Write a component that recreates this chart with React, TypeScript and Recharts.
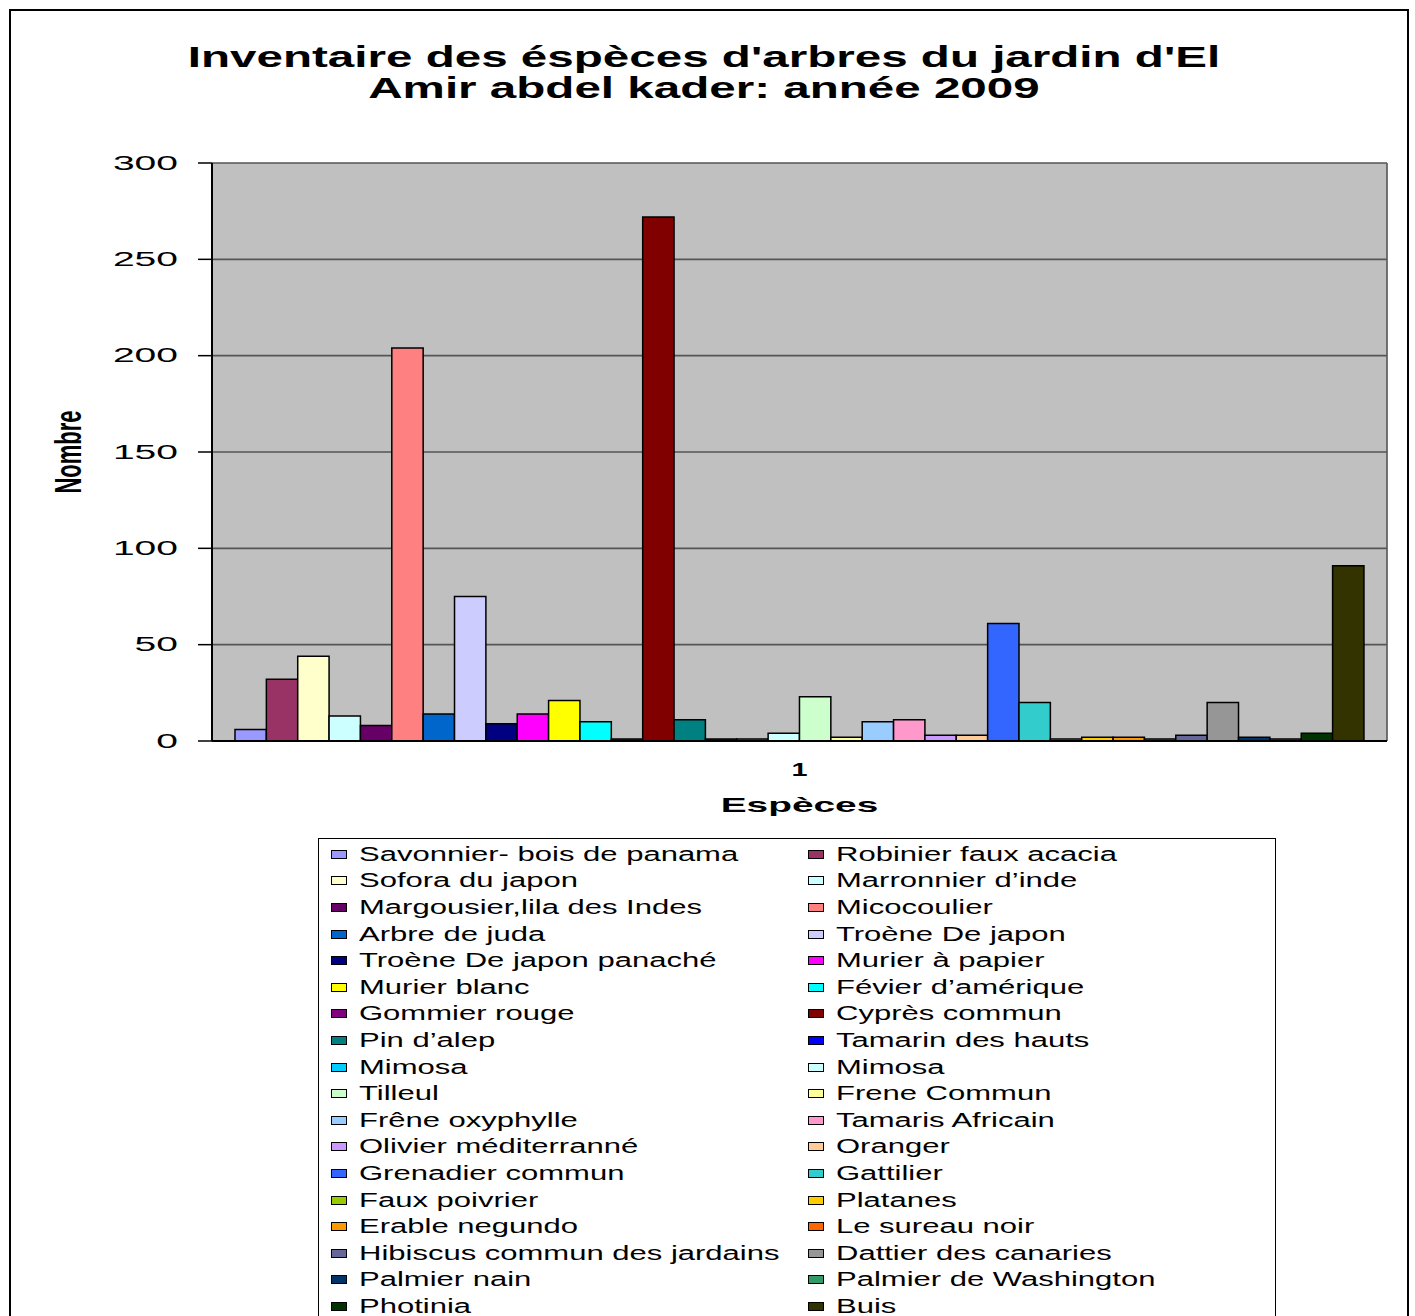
import React from 'react';
import { BarChart, Bar, XAxis, YAxis, CartesianGrid, Legend } from 'recharts';

const categories = ['1'];

const speciesNames = [
  'Savonnier- bois de panama', 'Robinier faux acacia',
  'Sofora du japon', 'Marronnier d’inde',
  'Margousier,lila des Indes', 'Micocoulier',
  'Arbre de juda', 'Troène De japon',
  'Troène De japon panaché', 'Murier à papier',
  'Murier blanc', 'Févier d’amérique',
  'Gommier rouge', 'Cyprès commun',
  'Pin d’alep', 'Tamarin des hauts',
  'Mimosa', 'Mimosa',
  'Tilleul', 'Frene Commun',
  'Frêne oxyphylle', 'Tamaris Africain',
  'Olivier méditerranné', 'Oranger',
  'Grenadier commun', 'Gattilier',
  'Faux poivrier', 'Platanes',
  'Erable negundo', 'Le sureau noir',
  'Hibiscus commun des jardains', 'Dattier des canaries',
  'Palmier nain', 'Palmier de Washington',
  'Photinia', 'Buis',
];

const speciesCounts = [
  6, 32, 44, 13, 8, 204, 14, 75, 9, 14, 21, 10, 1, 272, 11, 1, 1, 4,
  23, 2, 10, 11, 3, 3, 61, 20, 1, 2, 2, 1, 3, 20, 2, 1, 4, 91,
];

const speciesColors = [
  '#9999FF', '#993366', '#FFFFCC', '#CCFFFF', '#660066', '#FF8080',
  '#0066CC', '#CCCCFF', '#000080', '#FF00FF', '#FFFF00', '#00FFFF',
  '#800080', '#800000', '#008080', '#0000FF', '#00CCFF', '#CCFFFF',
  '#CCFFCC', '#FFFF99', '#99CCFF', '#FF99CC', '#CC99FF', '#FFCC99',
  '#3366FF', '#33CCCC', '#99CC00', '#FFCC00', '#FF9900', '#FF6600',
  '#666699', '#969696', '#003366', '#339966', '#003300', '#333300',
];

const yTicks = [0, 50, 100, 150, 200, 250, 300];

const titleLines = ["Inventaire des éspèces d'arbres du jardin d'El", 'Amir abdel kader: année 2009'];
const yLabel = 'Nombre';
const xLabel = 'Espèces';

const data = categories.map((c) => {
  const row: Record<string, any> = { name: c };
  speciesCounts.forEach((v, i) => {
    row[`s${i}`] = v;
  });
  return row;
});

const FONT = '"Liberation Sans", Arial, sans-serif';

const YTick = (props: any) => {
  const { x, y, payload } = props;
  return (
    <text
      transform={`translate(${x},${y}) scale(1.95,1)`}
      textAnchor="end"
      dominantBaseline="central"
      fontSize={20}
      fontFamily={FONT}
      fill="#000"
    >
      {payload.value}
    </text>
  );
};

const XTick = (props: any) => {
  const { x, y, payload } = props;
  return (
    <text
      transform={`translate(${x},${y}) scale(1.6,1)`}
      textAnchor="middle"
      dominantBaseline="central"
      fontSize={18}
      fontWeight="bold"
      fontFamily={FONT}
      fill="#000"
    >
      {payload.value}
    </text>
  );
};

const YLabelContent = (props: any) => {
  const vb = props.viewBox || {};
  const cy = vb.y + vb.height / 2;
  return (
    <text
      transform={`translate(68,${cy}) scale(1.7,1) rotate(-90)`}
      textAnchor="middle"
      dominantBaseline="central"
      fontSize={22}
      fontWeight="bold"
      fontFamily={FONT}
      fill="#000"
    >
      {yLabel}
    </text>
  );
};

const XLabelContent = (props: any) => {
  const vb = props.viewBox || {};
  const cx = vb.x + vb.width / 2;
  return (
    <text
      transform={`translate(${cx},${vb.y + 64}) scale(1.85,1)`}
      textAnchor="middle"
      dominantBaseline="central"
      fontSize={21}
      fontWeight="bold"
      fontFamily={FONT}
      fill="#000"
    >
      {xLabel}
    </text>
  );
};

const LegendContent = (props: any) => {
  const payload = props.payload || [];
  return (
    <div
      style={{
        display: 'grid',
        gridTemplateColumns: '477px 1fr',
        paddingLeft: 12,
        paddingTop: 2,
        fontFamily: FONT,
      }}
    >
      {payload.map((p: any, i: number) => (
        <div key={i} style={{ height: 26.6, display: 'flex', alignItems: 'center' }}>
          <span
            style={{
              width: 14,
              height: 7,
              border: '1.5px solid #000',
              background: p.color,
              marginRight: 12,
              flex: 'none',
            }}
          />
          <span
            style={{
              fontSize: 19.5,
              transform: 'scaleX(1.59)',
              transformOrigin: 'left center',
              whiteSpace: 'nowrap',
              display: 'inline-block',
              color: '#000',
            }}
          >
            {p.value}
          </span>
        </div>
      ))}
    </div>
  );
};

const seriesOrder = (item: any) => Number(String(item.dataKey).slice(1));

export default function App() {
  return (
    <div
      style={{
        position: 'absolute',
        left: 0,
        top: 0,
        width: 1415,
        height: 1316,
        overflow: 'hidden',
        background: '#fff',
      }}
    >
      <div
        style={{
          position: 'absolute',
          left: 9,
          top: 9,
          width: 1396,
          height: 1400,
          border: '2px solid #000',
        }}
      />
      <div
        style={{
          position: 'absolute',
          left: 0,
          top: 42,
          width: 1408,
          textAlign: 'center',
          fontFamily: FONT,
          fontWeight: 'bold',
          fontSize: 29,
          lineHeight: '31px',
          transform: 'scaleX(1.64)',
          transformOrigin: '704px 0',
          color: '#000',
        }}
      >
        {titleLines.map((t, i) => (
          <div key={i}>{t}</div>
        ))}
      </div>
      <div style={{ position: 'absolute', left: 0, top: 0 }}>
        <BarChart
          width={1415}
          height={1316}
          data={data}
          margin={{ top: 163, right: 28, left: 112, bottom: 515 }}
          barCategoryGap={23}
          barGap={0}
          barSize={31.36}
        >
          <CartesianGrid
            fill="#C0C0C0"
            stroke="#555"
            strokeWidth={1.6}
            vertical={true}
            horizontal={true}
            verticalCoordinatesGenerator={({ offset }: any) => [offset.left + offset.width]}
          />
          <XAxis
            dataKey="name"
            axisLine={{ stroke: '#000', strokeWidth: 2 }}
            tickLine={false}
            tickSize={0}
            tickMargin={29}
            height={60}
            tick={<XTick />}
            label={<XLabelContent />}
          />
          <YAxis
            domain={[0, 300]}
            ticks={yTicks}
            width={100}
            axisLine={{ stroke: '#000', strokeWidth: 2 }}
            tickLine={{ stroke: '#000', strokeWidth: 1.5 }}
            tickSize={14}
            tickMargin={20}
            tick={<YTick />}
            label={<YLabelContent />}
            interval={0}
          />
          {speciesNames.map((n, i) => (
            <Bar
              key={i}
              dataKey={`s${i}`}
              name={n}
              fill={speciesColors[i]}
              stroke="#000"
              strokeWidth={1.5}
              isAnimationActive={false}
            />
          ))}
          <Legend
            layout="vertical"
            align="center"
            verticalAlign="middle"
            itemSorter={seriesOrder}
            content={<LegendContent />}
            wrapperStyle={{
              left: 318,
              top: 838,
              width: 958,
              height: 520,
              border: '1.5px solid #000',
              background: '#fff',
              boxSizing: 'border-box',
            }}
          />
        </BarChart>
      </div>
    </div>
  );
}
